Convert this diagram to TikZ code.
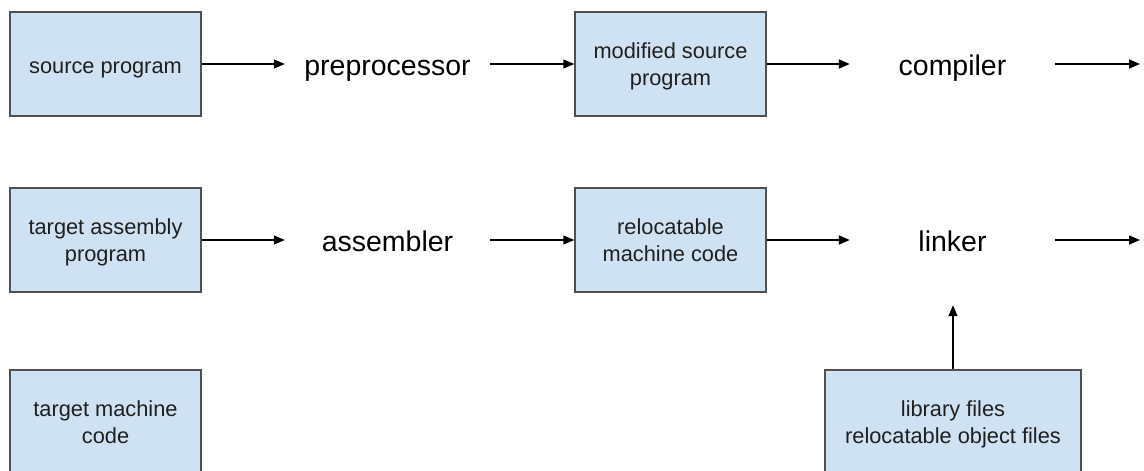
\documentclass[tikz,border=0pt]{standalone}
\usepackage{fontspec}
\setmainfont{Liberation Sans}
\usetikzlibrary{arrows.meta}
\definecolor{boxfill}{HTML}{CFE2F3}
\definecolor{boxline}{HTML}{505050}
\tikzset{
  stagebox/.style={draw=boxline, fill=boxfill, line width=1.4pt,
    minimum width=191pt, minimum height=104pt, align=center, inner sep=0pt,
    font=\fontsize{21.8}{27}\selectfont, text=black!88},
  oneline/.style={text height=21pt, text depth=3pt},
  twoline/.style={text height=50pt, text depth=8pt},
  widebox/.style={stagebox, minimum width=256pt},
  tool/.style={minimum width=205pt, minimum height=130pt, inner sep=0pt,
    text height=26pt, text depth=3pt,
    font=\fontsize{28.5}{34}\selectfont},
  flow/.style={line width=1.5pt, -{Triangle[length=11pt,width=9pt]}}
}
\begin{document}
\begin{tikzpicture}[x=1pt,y=-1pt]
  \useasboundingbox (0,0) rectangle (1144,471);
  \clip (0,0) rectangle (1144,471);
  \fill[white] (0,0) rectangle (1144,471);

  % first row: preprocessing and compiling
  \node[stagebox, oneline] (src) at (105.5,64) {source program};
  \node[tool] (pre) at (387.5,64) {preprocessor};
  \node[stagebox, twoline] (mod) at (670.5,64) {modified source\\program};
  \node[tool] (comp) at (952.5,64) {compiler};
  \coordinate (compout) at (1140,64);

  % second row: assembling and linking
  \node[stagebox, twoline] (asmprog) at (105.5,240) {target assembly\\program};
  \node[tool] (asm) at (387.5,240) {assembler};
  \node[stagebox, twoline] (reloc) at (670.5,240) {relocatable\\machine code};
  \node[tool] (link) at (952.5,240) {linker};
  \coordinate (linkout) at (1140,240);

  % third row: results and linker inputs
  \node[stagebox, twoline] (target) at (105.5,422) {target machine\\code};
  \node[widebox, twoline] (lib) at (953,422) {library files\\relocatable object files};

  \draw[flow] (src.east) -- (pre.west);
  \draw[flow] (pre.east) -- (mod.west);
  \draw[flow] (mod.east) -- (comp.west);
  \draw[flow] (comp.east) -- (compout);

  \draw[flow] (asmprog.east) -- (asm.west);
  \draw[flow] (asm.east) -- (reloc.west);
  \draw[flow] (reloc.east) -- (link.west);
  \draw[flow] (link.east) -- (linkout);

  \draw[flow] (lib.north) -- (lib.north |- link.south);
\end{tikzpicture}
\end{document}
